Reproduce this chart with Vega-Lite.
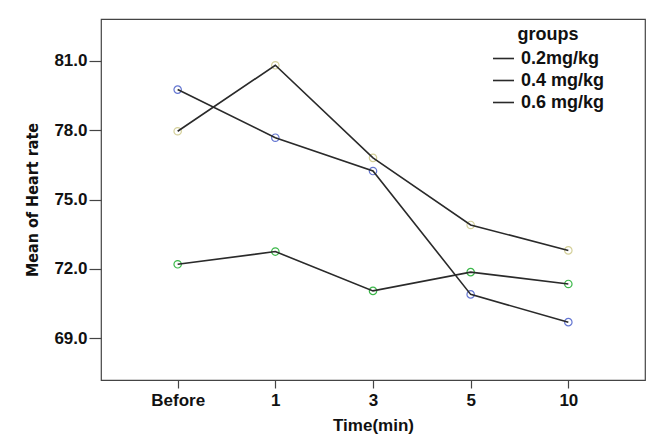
{
  "$schema": "https://vega.github.io/schema/vega-lite/v6.json",
  "autosize": "none",
  "width": 544,
  "height": 361,
  "padding": {"left": 101, "top": 19, "right": 12, "bottom": 64},
  "background": "white",
  "config": {
    "view": {"stroke": "#444444", "strokeWidth": 1.2},
    "font": "Liberation Sans"
  },
  "data": {
    "values": [
      {"time": "Before", "group": "0.2mg/kg", "hr": 79.75},
      {"time": "1", "group": "0.2mg/kg", "hr": 77.67},
      {"time": "3", "group": "0.2mg/kg", "hr": 76.23},
      {"time": "5", "group": "0.2mg/kg", "hr": 70.9},
      {"time": "10", "group": "0.2mg/kg", "hr": 69.7},
      {"time": "Before", "group": "0.4 mg/kg", "hr": 72.2},
      {"time": "1", "group": "0.4 mg/kg", "hr": 72.75},
      {"time": "3", "group": "0.4 mg/kg", "hr": 71.05},
      {"time": "5", "group": "0.4 mg/kg", "hr": 71.86},
      {"time": "10", "group": "0.4 mg/kg", "hr": 71.35},
      {"time": "Before", "group": "0.6 mg/kg", "hr": 77.95},
      {"time": "1", "group": "0.6 mg/kg", "hr": 80.8},
      {"time": "3", "group": "0.6 mg/kg", "hr": 76.8},
      {"time": "5", "group": "0.6 mg/kg", "hr": 73.9},
      {"time": "10", "group": "0.6 mg/kg", "hr": 72.8}
    ]
  },
  "encoding": {
    "x": {
      "field": "time", "type": "ordinal", "sort": ["Before", "1", "3", "5", "10"],
      "scale": {"type": "point", "padding": 0.785},
      "axis": {
        "title": "Time(min)", "labelAngle": 0, "domain": false, "grid": false,
        "tickSize": 8, "tickColor": "#444444", "tickWidth": 1.2,
        "labelFont": "Liberation Sans", "labelFontWeight": "bold", "labelFontSize": 17, "labelColor": "#111111",
        "labelPadding": 4,
        "titleFont": "Liberation Sans", "titleFontWeight": "bold", "titleFontSize": 17, "titleColor": "#111111",
        "titlePadding": 9
      }
    },
    "y": {
      "field": "hr", "type": "quantitative",
      "scale": {"domain": [67.2, 82.8], "nice": false, "zero": false},
      "axis": {
        "title": "Mean of Heart rate", "values": [69, 72, 75, 78, 81], "format": ".1f",
        "domain": false, "grid": false,
        "tickSize": 12, "tickColor": "#444444", "tickWidth": 1.2,
        "labelFont": "Liberation Sans", "labelFontWeight": "bold", "labelFontSize": 17, "labelColor": "#111111",
        "labelPadding": 2,
        "titleFont": "DejaVu Sans Condensed", "titleFontWeight": "bold", "titleFontSize": 16, "titleColor": "#111111",
        "titlePadding": 13
      }
    }
  },
  "layer": [
    {
      "mark": {"type": "point", "shape": "circle", "filled": false, "size": 55, "strokeWidth": 1.2, "opacity": 1},
      "encoding": {
        "color": {
          "field": "group", "type": "nominal",
          "scale": {"domain": ["0.2mg/kg", "0.4 mg/kg", "0.6 mg/kg"], "range": ["#6577d2", "#3cb84a", "#d4d09a"]},
          "legend": null
        }
      }
    },
    {
      "mark": {"type": "line", "strokeWidth": 1.6},
      "encoding": {
        "color": {
          "field": "group", "type": "nominal",
          "scale": {"domain": ["0.2mg/kg", "0.4 mg/kg", "0.6 mg/kg"], "range": ["#2a2a2a", "#2a2a2a", "#2a2a2a"]},
          "legend": {
            "title": "groups", "orient": "none", "legendX": 391, "legendY": 7,
            "titleFont": "Liberation Sans", "titleFontWeight": "bold", "titleFontSize": 18, "titleColor": "#111111",
            "titleAnchor": "middle", "titlePadding": 3,
            "labelFont": "Liberation Sans", "labelFontWeight": "bold", "labelFontSize": 18, "labelColor": "#111111",
            "symbolType": "stroke", "symbolSize": 440, "symbolStrokeWidth": 1.6, "symbolStrokeColor": "#2a2a2a",
            "rowPadding": 1, "labelOffset": 6
          }
        }
      }
    }
  ],
  "resolve": {"scale": {"color": "independent"}, "legend": {"color": "independent"}}
}
